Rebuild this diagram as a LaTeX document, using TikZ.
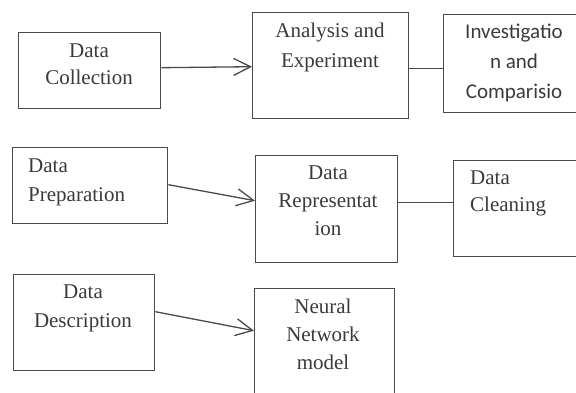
\documentclass[tikz,border=0pt]{standalone}
\usepackage{fontspec}
\setmainfont{Liberation Serif}
\newfontfamily\calfont{Carlito}
\usetikzlibrary{arrows.meta}
\definecolor{ink}{HTML}{3A3A3A}
\definecolor{rule}{HTML}{4A4A4A}
\begin{document}
\begin{tikzpicture}[x=1pt,y=-1pt,
  stage/.style={draw=rule, line width=1.4pt, inner sep=0pt, anchor=north west},
  caption/.style={text=ink, inner sep=0pt, anchor=north, align=center,
    font=\fontsize{21}{28}\selectfont},
  leftcaption/.style={caption, anchor=north west, align=left},
  link/.style={draw=rule, line width=1.3pt},
  flow/.style={link, -{Straight Barb[length=17pt,width=17pt,line width=1.3pt]}}]
\useasboundingbox (0,0) rectangle (576,392);
\clip (0,0) rectangle (576,392);

% top row
\node[stage, minimum width=142pt, minimum height=76pt] (collect) at (18,32) {};
\node[stage, minimum width=156pt, minimum height=106pt] (analysis) at (252,12) {};
\node[stage, minimum width=150pt, minimum height=98pt] (invest) at (443,14) {};
\node[caption, font=\fontsize{21}{27}\selectfont] (collect-t) at (89,44) {Data\\Collection};
\node[caption, font=\fontsize{21}{30}\selectfont] (analysis-t) at (330,23) {Analysis and\\Experiment};
\node[caption, font=\calfont\fontsize{21}{30}\selectfont] (invest-t) at (514,24) {Investigatio\\n and\\Comparisio};

% middle row
\node[stage, minimum width=155pt, minimum height=76pt] (prep) at (12,147) {};
\node[stage, minimum width=142pt, minimum height=107pt] (repr) at (255,155) {};
\node[stage, minimum width=140pt, minimum height=96pt] (clean) at (453,160) {};
\node[leftcaption, font=\fontsize{21}{29}\selectfont] (prep-t) at (28,159) {Data\\Preparation};
\node[caption, font=\fontsize{21}{28}\selectfont] (repr-t) at (328,166) {Data\\Representat\\ion};
\node[leftcaption, font=\fontsize{21}{27}\selectfont] (clean-t) at (470,171) {Data\\Cleaning};

% bottom row
\node[stage, minimum width=141pt, minimum height=96pt] (descr) at (13,274) {};
\node[stage, minimum width=140pt, minimum height=130pt] (neural) at (254,288) {};
\node[caption, font=\fontsize{21}{29}\selectfont] (descr-t) at (83,285) {Data\\Description};
\node[caption, font=\fontsize{21}{28}\selectfont] (neural-t) at (323,299) {Neural\\Network\\model};

% connectors
\draw[flow] ([yshift=3pt]collect.east) -- ([yshift=-1pt]analysis.west);
\draw[link] ([yshift=-3pt]analysis.east) -- ([yshift=-5pt]invest.west);
\draw[flow] ([yshift=1pt]prep.east) -- ([yshift=8.5pt]repr.west);
\draw[link] ([yshift=6.5pt]repr.east) -- ([yshift=6pt]clean.west);
\draw[flow] ([yshift=11pt]descr.east) -- ([yshift=23pt]neural.west);
\end{tikzpicture}
\end{document}
